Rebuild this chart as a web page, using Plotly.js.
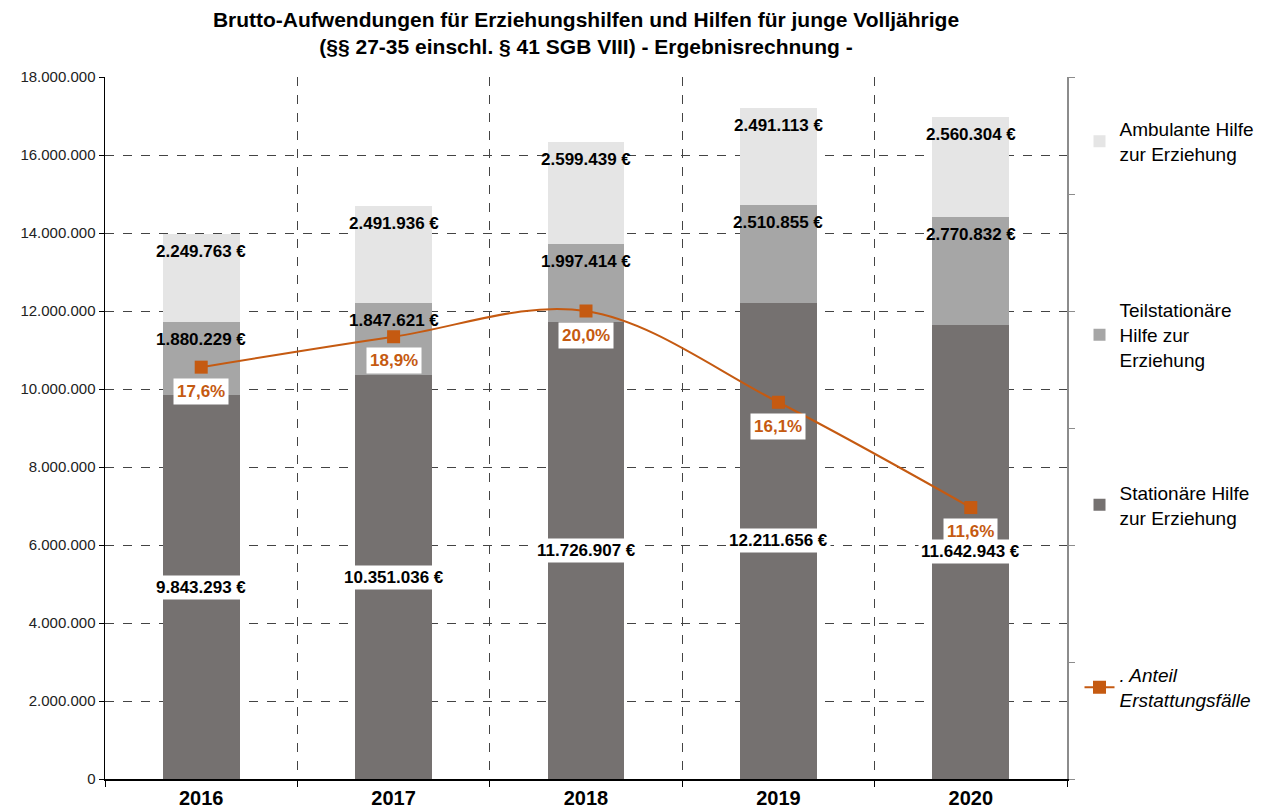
<!DOCTYPE html>
<html>
<head>
<meta charset="utf-8">
<script src="https://cdn.plot.ly/plotly-3.0.1.min.js"></script>
<style>html,body{margin:0;padding:0;background:#fff;}#chart{width:1271px;height:812px;}</style>
</head>
<body>
<div id="chart"></div>
<script>
var years = ['2016', '2017', '2018', '2019', '2020'];
var stationaer = [9843293, 10351036, 11726907, 12211656, 11642943];
var teilstationaer = [1880229, 1847621, 1997414, 2510855, 2770832];
var ambulant = [2249763, 2491936, 2599439, 2491113, 2560304];
var anteil = [17.6, 18.9, 20.0, 16.1, 11.6];

var seriesNames = ['Stationäre Hilfe<br>zur Erziehung', 'Teilstationäre<br>Hilfe zur<br>Erziehung', 'Ambulante Hilfe<br>zur Erziehung', '<i>. Anteil<br>Erstattungsfälle</i>'];

var FONT = 'Liberation Sans, Arial, Helvetica, sans-serif';
var ORANGE = '#c55a11';

function fmtEuro(v) {
  return String(v).replace(/\B(?=(\d{3})+(?!\d))/g, '.') + ' €';
}
function fmtPct(v) {
  return v.toFixed(1).replace('.', ',') + '%';
}

var traces = [
  {type: 'bar', x: years, y: stationaer, name: seriesNames[0], marker: {color: '#757170'},
   legend: 'legend3', hoverinfo: 'skip'},
  {type: 'bar', x: years, y: teilstationaer, name: seriesNames[1], marker: {color: '#a6a6a6'},
   legend: 'legend2', hoverinfo: 'skip'},
  {type: 'bar', x: years, y: ambulant, name: seriesNames[2], marker: {color: '#e5e5e5'},
   legend: 'legend', hoverinfo: 'skip'},
  {type: 'scatter', mode: 'lines+markers', x: years, y: anteil, yaxis: 'y2', name: seriesNames[3],
   line: {color: ORANGE, width: 2, shape: 'spline', smoothing: 1},
   marker: {symbol: 'square', size: 13, color: ORANGE},
   legend: 'legend4', hoverinfo: 'skip'}
];

var annotations = [];
for (var i = 0; i < years.length; i++) {
  var s = stationaer[i], t = teilstationaer[i], a = ambulant[i];
  annotations.push({x: i, y: s / 2, xref: 'x', yref: 'y', text: '<b>' + fmtEuro(s) + '</b>',
    showarrow: false, bgcolor: '#ffffff', borderpad: 2, yanchor: 'middle',
    font: {family: FONT, size: 17, color: '#000'}});
  annotations.push({x: i, y: s + t, xref: 'x', yref: 'y', text: '<b>' + fmtEuro(t) + '</b>',
    showarrow: false, yanchor: 'top', yshift: -6,
    font: {family: FONT, size: 17, color: '#000'}});
  annotations.push({x: i, y: s + t + a, xref: 'x', yref: 'y', text: '<b>' + fmtEuro(a) + '</b>',
    showarrow: false, yanchor: 'top', yshift: -6,
    font: {family: FONT, size: 17, color: '#000'}});
  annotations.push({x: i, y: anteil[i], xref: 'x', yref: 'y2', text: '<b>' + fmtPct(anteil[i]) + '</b>',
    showarrow: false, yanchor: 'middle', yshift: -24, bgcolor: '#ffffff', borderpad: 3,
    font: {family: FONT, size: 17, color: ORANGE}});
}

function legendAt(y) {
  return {x: 1.013, xanchor: 'left', y: y, yanchor: 'top', bgcolor: 'rgba(0,0,0,0)',
    font: {family: FONT, size: 19, color: '#000'}};
}

var layout = {
  width: 1271, height: 812,
  margin: {l: 105, r: 204, t: 77, b: 33},
  paper_bgcolor: '#fff', plot_bgcolor: '#fff',
  separators: ',.',
  barmode: 'stack',
  bargap: 0.6,
  showlegend: true,
  font: {family: FONT, color: '#000'},
  title: {
    text: '<b>Brutto-Aufwendungen für Erziehungshilfen und Hilfen für junge Volljährige<br>(§§ 27-35 einschl. § 41 SGB VIII) - Ergebnisrechnung -</b>',
    font: {family: FONT, size: 21, color: '#000'},
    x: 0.5, xref: 'paper', xanchor: 'center', y: 0.967, yref: 'container', yanchor: 'top'
  },
  xaxis: {
    type: 'category', range: [-0.5, 4.5], autorange: false,
    tickson: 'boundaries', ticks: 'outside', ticklen: 6, tickcolor: '#000',
    showgrid: true, gridcolor: '#444', griddash: 'dash', gridwidth: 1,
    showline: true, linecolor: '#000', linewidth: 1.5,
    tickfont: {family: FONT, size: 20, color: '#000', weight: 'bold'},
    tickangle: 0,
    fixedrange: true
  },
  yaxis: {
    range: [0, 18000000], autorange: false, dtick: 2000000, tickformat: ',d',
    showgrid: true, gridcolor: '#444', griddash: 'dash', gridwidth: 1,
    zeroline: false, showline: true, linecolor: '#000', linewidth: 1.5,
    ticks: 'outside', ticklen: 5, tickcolor: '#000',
    tickfont: {family: FONT, size: 15, color: '#222'},
    fixedrange: true
  },
  yaxis2: {
    overlaying: 'y', side: 'right', range: [0, 30], autorange: false, dtick: 5,
    showgrid: false, zeroline: false, showticklabels: false,
    showline: true, linecolor: '#8c8c8c', linewidth: 2,
    ticks: 'outside', ticklen: 6, tickcolor: '#8c8c8c',
    fixedrange: true
  },
  legend: legendAt(0.953),
  legend2: legendAt(0.695),
  legend3: legendAt(0.435),
  legend4: legendAt(0.175),
  annotations: annotations
};

Plotly.newPlot('chart', traces, layout, {displayModeBar: false, staticPlot: true});
</script>
</body>
</html>
